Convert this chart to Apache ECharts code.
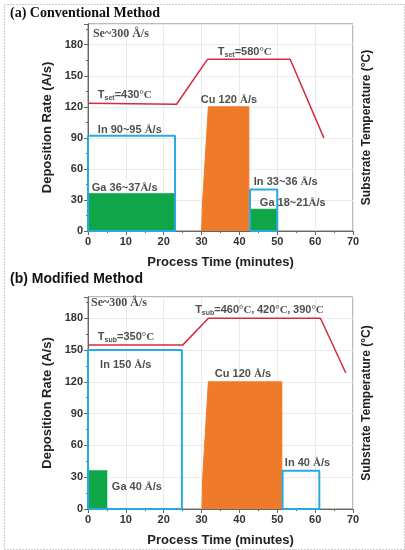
<!DOCTYPE html>
<html>
<head>
<meta charset="utf-8">
<script src="https://cdn.jsdelivr.net/npm/echarts@6.0.0/dist/echarts.min.js"></script>
<style>
    html, body { margin: 0; padding: 0; background: #fff; }
    #chart { width: 405px; height: 550px; }
</style>
</head>
<body>
<div id="chart"></div>
<script>
// time axis (minutes) and rate axis (A/s)
var timeMax = 70;
var rateMax = 200;

// (a) conventional method
var aInBox = [[0, 0], [0, 92], [23, 92], [23, 0], [0, 0]];
var aGaFill = [[0, 36], [23, 36]];
var aCu = [[30, 0], [30.3, 30], [31.8, 120], [42.5, 120], [42.5, 0]];
var aIn2Box = [[42.8, 0], [42.8, 40], [50, 40], [50, 0], [42.8, 0]];
var aGa2Fill = [[42.8, 21], [50, 21]];
var aTemp = [[0, 123.5], [23.4, 122.5], [31.6, 166], [53.4, 166], [62.3, 90]];
var aNotes = [
    [1.3, 190, '{se|Se~300 Å/s}'],
    [2.6, 131.5, 'T{s|set}=430{c|°C}'],
    [34.3, 173, 'T{s|set}=580{c|°C}'],
    [29.8, 126.5, 'Cu 120 {c|Å}/s'],
    [2.6, 97.5, 'In 90~95 {c|Å}/s'],
    [1.0, 41.5, 'Ga 36~37{c|Å}/s'],
    [43.8, 47, 'In 33~36 {c|Å}/s'],
    [45.4, 27, 'Ga 18~21{c|Å}/s']
];

// (b) modified method
var bInBox = [[0, 0], [0, 150], [24.8, 150], [24.8, 0], [0, 0]];
var bGaFill = [[0, 36], [5.1, 36]];
var bCu = [[30.1, 0], [30.3, 30], [31.8, 120], [51.2, 120], [51.2, 0]];
var bIn2Box = [[51.4, 0], [51.4, 36], [61.1, 36], [61.1, 0], [51.4, 0]];
var bTemp = [[0, 154.6], [25, 154.6], [31.8, 180], [61.4, 180], [68.1, 128.3]];
var bNotes = [
    [0.8, 194.5, '{se|Se~300 Å/s}'],
    [2.6, 162.5, 'T{s|sub}=350{c|°C}'],
    [28.3, 188, 'T{s|sub}=460{c|°C, }420{c|°C, }390{c|°C}'],
    [3.2, 136, 'In 150 {c|Å}/s'],
    [33.5, 127.5, 'Cu 120 {c|Å}/s'],
    [6.3, 20.5, 'Ga 40 {c|Å}/s'],
    [52, 43.5, 'In 40 {c|Å}/s']
];

var cyan = '#2aa9e0', green = '#0fa64a', orange = '#ef7b2a', red = '#d62b3c';
var sans = '"Liberation Sans", Arial, sans-serif';
var serif = '"Liberation Serif", "Times New Roman", serif';

var myChart = echarts.init(document.getElementById('chart'));

function xAxisFor(g) {
    return {
        gridIndex: g, type: 'value', min: 0, max: timeMax, interval: 10,
        axisLine: {show: true, onZero: false, lineStyle: {color: '#666'}},
        axisTick: {show: true, length: 4, lineStyle: {color: '#666'}},
        minorTick: {show: true, splitNumber: 2, length: 2, lineStyle: {color: '#666'}},
        axisLabel: {color: '#333', fontWeight: 'bold', fontSize: 11, fontFamily: sans, margin: 5},
        splitLine: {show: true, lineStyle: {color: '#ebebeb'}},
        name: 'Process Time (minutes)', nameLocation: 'middle', nameGap: 25,
        nameTextStyle: {color: '#222', fontWeight: 'bold', fontSize: 13, fontFamily: sans}
    };
}

function rateAxisFor(g) {
    return {
        gridIndex: g, type: 'value', min: 0, max: rateMax, interval: 30,
        axisLine: {show: true, onZero: false, lineStyle: {color: '#666'}},
        axisTick: {show: true, length: 4, lineStyle: {color: '#666'}},
        minorTick: {show: true, splitNumber: 2, length: 2, lineStyle: {color: '#666'}},
        axisLabel: {color: '#333', fontWeight: 'bold', fontSize: 11, fontFamily: sans, margin: 5, showMaxLabel: false},
        splitLine: {show: true, lineStyle: {color: '#ebebeb'}},
        name: 'Deposition Rate (A/s)', nameLocation: 'middle', nameGap: 24,
        nameTextStyle: {color: '#222', fontWeight: 'bold', fontSize: 13, fontFamily: sans}
    };
}

function tempAxisFor(g) {
    return {
        gridIndex: g, type: 'value', position: 'right', min: 0, max: rateMax,
        axisLine: {show: true, lineStyle: {color: '#666'}},
        axisTick: {show: false}, axisLabel: {show: false}, splitLine: {show: false},
        name: 'Substrate Temperature (°C)', nameLocation: 'middle', nameGap: 8, nameRotate: 90,
        nameTextStyle: {color: '#222', fontWeight: 'bold', fontSize: 12, fontFamily: sans, verticalAlign: 'top'}
    };
}

function fill(data, g, color) {
    return {
        type: 'line', xAxisIndex: g, yAxisIndex: g * 2, data: data, symbol: 'none', silent: true,
        lineStyle: {color: color, width: 1}, areaStyle: {color: color, opacity: 1}
    };
}

function outline(data, g, color, yi, w) {
    return {
        type: 'line', xAxisIndex: g, yAxisIndex: yi, data: data, symbol: 'none', silent: true,
        lineStyle: {color: color, width: w}
    };
}

function notes(data, g) {
    return {
        type: 'scatter', xAxisIndex: g, yAxisIndex: g * 2, symbolSize: 0, silent: true,
        data: data.map(function (d) { return {value: [d[0], d[1]], txt: d[2]}; }),
        label: {
            show: true, position: 'right', distance: 0,
            formatter: function (p) { return p.data.txt; },
            color: '#222', fontWeight: 'bold', fontSize: 11, fontFamily: sans,
            rich: {
                s: {fontSize: 7, fontWeight: 'bold', fontFamily: sans, color: '#222', verticalAlign: 'bottom', padding: [6, 0, 0, 0]},
                c: {fontSize: 11, fontWeight: 'bold', fontFamily: serif, color: '#222'},
                se: {fontSize: 12, fontWeight: 'bold', fontFamily: serif, color: '#222'}
            }
        }
    };
}

var option = {
    animation: false,
    backgroundColor: '#fff',
    grid: [
        {left: 88, right: 52, top: 24, bottom: 319, show: true, borderColor: '#777', borderWidth: 1, outerBoundsMode: 'none'},
        {left: 88, right: 52, top: 297, bottom: 41, show: true, borderColor: '#777', borderWidth: 1, outerBoundsMode: 'none'}
    ],
    xAxis: [xAxisFor(0), xAxisFor(1)],
    yAxis: [rateAxisFor(0), tempAxisFor(0), rateAxisFor(1), tempAxisFor(1)],
    graphic: [
        {type: 'rect', left: 2, top: 2, shape: {width: 400, height: 545},
            style: {fill: 'none', stroke: '#999', lineWidth: 1, lineDash: [1, 2]}},
        {type: 'text', left: 10, top: 6, style: {text: '(a) Conventional Method', fontSize: 14, fontWeight: 'bold', fontFamily: serif, fill: '#111'}},
        {type: 'text', left: 10, top: 272, style: {text: '(b) Modified Method', fontSize: 14, fontWeight: 'bold', fontFamily: sans, fill: '#111'}}
    ],
    series: [
        fill(aGaFill, 0, green),
        fill(aGa2Fill, 0, green),
        fill(aCu, 0, orange),
        outline(aInBox, 0, cyan, 0, 2),
        outline(aIn2Box, 0, cyan, 0, 2),
        outline(aTemp, 0, red, 1, 1.5),
        notes(aNotes, 0),
        fill(bGaFill, 1, green),
        fill(bCu, 1, orange),
        outline(bInBox, 1, cyan, 2, 2),
        outline(bIn2Box, 1, cyan, 2, 2),
        outline(bTemp, 1, red, 3, 1.5),
        notes(bNotes, 1)
    ]
};

myChart.setOption(option);
</script>
</body>
</html>
